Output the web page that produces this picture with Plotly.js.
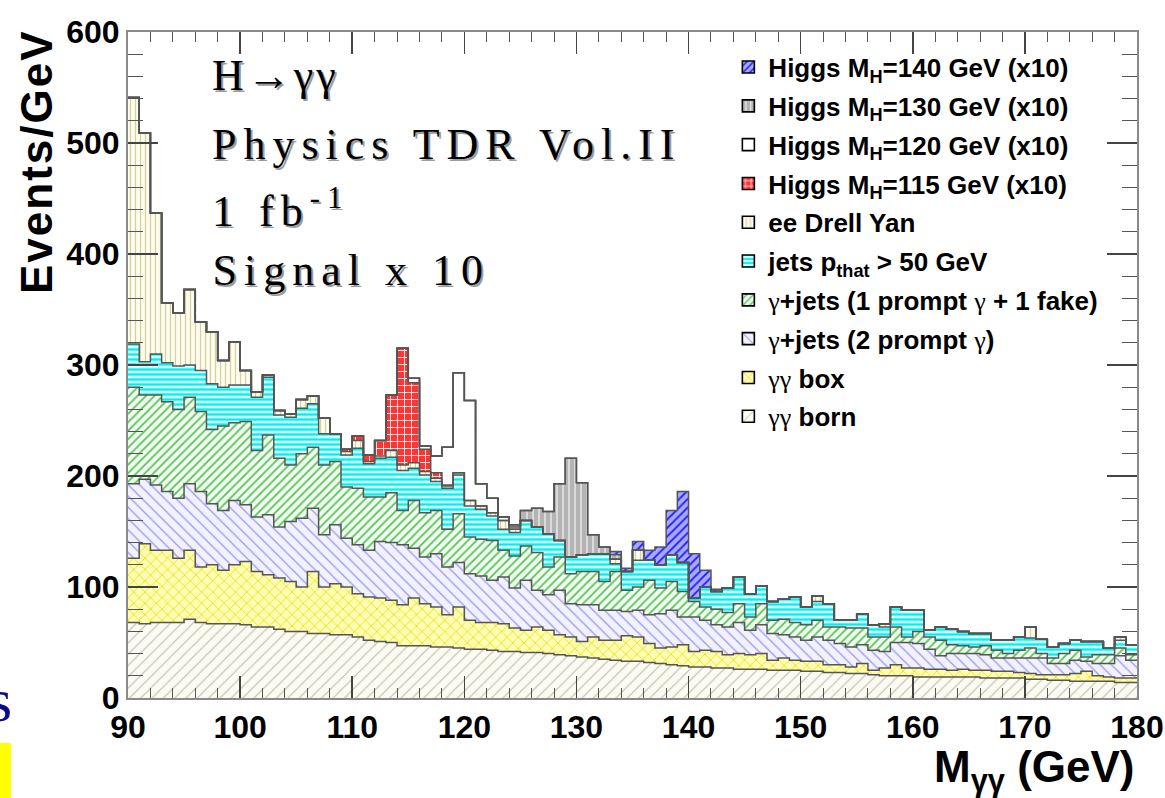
<!DOCTYPE html>
<html>
<head>
<meta charset="utf-8">
<script src="https://cdn.plot.ly/plotly-3.0.1.min.js"></script>
<style>
  html, body { margin: 0; padding: 0; background: #ffffff; }
  #chart { width: 1165px; height: 798px; }
  /* tracking for the axis title and the serif note block */
  .annotation[data-index="0"] text { letter-spacing: 2px; }
  .annotation[data-index="2"] text, .annotation[data-index="6"] text { letter-spacing: 3px; }
  .annotation[data-index="3"] text, .annotation[data-index="4"] text,
  .annotation[data-index="5"] text, .annotation[data-index="7"] text,
  .annotation[data-index="8"] text, .annotation[data-index="9"] text { letter-spacing: 7px; }
</style>
</head>
<body>
<div id="chart"></div>
<script>
// Di-photon invariant mass, 1 GeV bins from 90 to 180 GeV (Events/GeV)
const massLow = 90;
const massHigh = 180;

// backgrounds, stacked bottom to top
const born = [68,67,68,68,68,71,68,67,67,67,66,64,64,62,60,60,58,58,57,57,55,52,51,50,47,47,47,46,46,45,44,44,43,
  42,42,41,41,40,39,38,37,36,35,34,33,
  33,32,31,30,29,28,28,27,27,26,26,26,25,25,25,24,24,23,23,22,22,21,20,
  20,20,19,19,19,19,19,19,18,18,18,18,17,17,16,16,15,15,15,15,14,14];
const box = [58,72,65,65,58,62,50,53,48,53,57,50,47,46,45,40,56,42,46,43,39,39,39,38,37,43,38,36,29,37,26,24,25,
  25,21,20,23,21,18,17,14,19,17,18,23,
  22,17,14,16,19,14,15,15,12,14,13,14,9,11,9,9,9,7,7,6,9,4,7,
  10,7,8,7,7,6,7,6,7,6,6,5,5,4,5,5,7,9,5,4,4,4];
const prompt2 = [67,58,59,53,54,60,68,55,54,58,51,49,54,46,54,62,57,47,53,44,44,42,
  51,52,54,45,42,48,43,40,42,42,38,42,36,45,33,32,40,30,33,29,27,27,22,
  24,26,31,33,25,31,27,24,25,28,22,26,24,21,21,19,22,22,19,18,17,18,15,
  20,23,22,18,12,15,14,15,14,12,12,13,14,15,10,10,12,9,11,12,20,16];
const prompt1fake = [87,76,81,81,80,78,72,67,76,70,75,60,72,62,51,58,55,63,57,46,51,48,
  40,45,31,43,40,39,34,44,33,33,36,
  24,29,31,34,25,30,27,30,30,26,35,19,
  21,31,23,26,23,14,12,14,13,17,12,19,12,14,13,14,15,12,15,17,15,12,13,
  14,5,11,11,14,8,7,6,8,7,4,7,9,4,5,9,9,4,8,8,7,5];
const jets = [39,30,37,35,39,29,37,41,35,34,33,48,52,39,43,41,39,28,25,29,36,30,
  35,32,36,29,34,26,37,35,28,27,22,
  19,21,23,23,30,15,15,15,16,25,7,17,
  24,18,21,24,26,3,18,16,22,24,21,16,17,18,23,16,17,21,6,7,13,11,9,
  18,24,19,6,12,14,13,12,11,9,12,12,9,13,10,9,9,14,12,6,7,9];
const drellYan = [222,206,127,54,48,68,44,47,24,39,13,5,2,4,3,8,7,14,0,3,7,2,
  2,6,5,5,3,3,2,2,5,3,3,8,3,0,0,0,0,0,0,0,0,4,0,
  9,0,0,0,0,0,0,0,0,0,0,0,0,0,0,0,5,0,0,0,0,0,3,
  0,0,0,0,0,0,0,0,0,0,0,0,10,0,0,0,0,0,0,0,3,0];

// Higgs signals (x10): first filled bin (GeV) and contents from there on
const h115From = 109, h115 = [2,4,6,14,50,105,72,20,5,1];
const h120From = 115, h120 = [4,3,15,34,90,90,20,13,3,2];
const h130From = 124, h130 = [2,9,17,20,51,89,65,17,6,4];
const h140From = 133, h140 = [3,3,8,9,16,40,64,40,15,2];

const nBins = massHigh - massLow;
const binCenters = Array.from({length: nBins}, (_, i) => massLow + i + 0.5);
const binEdges = Array.from({length: nBins + 1}, (_, i) => massLow + i);

function fullHisto(from, vals) {
  const h = new Array(nBins).fill(0);
  vals.forEach((v, k) => { h[from - massLow + k] = v; });
  return h;
}

const gam = '<span style="font-family:Liberation Serif;font-weight:normal">γ</span>';

// stack order bottom -> top
const series = [
  {name: gam + gam + ' born', y: born, bg: '#fbfbf4', fg: '#bdbda6', shape: '/', size: 8, sol: 0.14},
  {name: gam + gam + ' box', y: box, bg: '#fffcb4', fg: '#e6e000', shape: 'x', size: 8, sol: 0.18},
  {name: gam + '+jets (2 prompt ' + gam + ')', y: prompt2, bg: '#f1f1ff', fg: '#9a9ae6', shape: '\\', size: 8, sol: 0.16},
  {name: gam + '+jets (1 prompt ' + gam + ' + 1 fake)', y: prompt1fake, bg: '#effcef', fg: '#58c058', shape: '/', size: 6, sol: 0.28},
  {name: 'jets p<sub>that</sub> > 50 GeV', y: jets, bg: '#d2ffff', fg: '#00f0f0', shape: '-', size: 5, sol: 0.45},
  {name: 'ee Drell Yan', y: drellYan, bg: '#fdfcee', fg: '#d6d09c', shape: '|', size: 5, sol: 0.25},
  {name: 'Higgs M<sub>H</sub>=115 GeV (x10)', y: fullHisto(h115From, h115), bg: '#ff3535', fg: '#ffffff', shape: '+', size: 7, sol: 0.22},
  {name: 'Higgs M<sub>H</sub>=120 GeV (x10)', y: fullHisto(h120From, h120), bg: '#ffffff', fg: '#ffffff', shape: '', size: 8, sol: 0.2},
  {name: 'Higgs M<sub>H</sub>=130 GeV (x10)', y: fullHisto(h130From, h130), bg: '#b4b4b4', fg: '#f4f4f4', shape: '|', size: 6, sol: 0.2},
  {name: 'Higgs M<sub>H</sub>=140 GeV (x10)', y: fullHisto(h140From, h140), bg: '#a8a8ff', fg: '#1a1aff', shape: '/', size: 6, sol: 0.3}
];

const font = 'Liberation Sans, Arial, Helvetica, sans-serif';
const serif = 'Liberation Serif, Times New Roman, serif';

const fills = [];
const outlines = [];
const legendItems = [];
const cumulative = new Array(nBins).fill(0);

series.forEach((s, idx) => {
  const pattern = {shape: s.shape, fgcolor: s.fg, bgcolor: s.bg, size: s.size, solidity: s.sol, fillmode: 'replace'};
  fills.push({
    type: 'bar', x: binCenters, y: s.y, width: 1,
    marker: {color: s.bg, line: {width: 0}, pattern: pattern},
    showlegend: false, hoverinfo: 'skip'
  });
  for (let i = 0; i < nBins; i++) cumulative[i] += s.y[i];
  const top = cumulative.slice();
  top.push(cumulative[nBins - 1]);
  outlines.push({
    type: 'scatter', mode: 'lines', x: binEdges, y: top,
    line: {shape: 'hv', color: '#555555', width: 1.5},
    showlegend: false, hoverinfo: 'skip'
  });
  // legend entry with a framed swatch (zero-height bar outside the axis range)
  legendItems.unshift({
    type: 'bar', x: [massHigh + 20], y: [0], width: 1, name: s.name,
    legendgroup: 'g' + idx,
    marker: {color: s.bg, line: {color: '#000000', width: 1.6}, pattern: pattern},
    hoverinfo: 'skip'
  });
});

const px2py = p => (698 - p) / 666;   // plot-area pixel row -> paper y
const px2px = p => (p - 128) / 1009;  // plot-area pixel column -> paper x

// serif note block; "track" is the extra letter spacing in px, "chars" the visible glyph count
const notes = [
  {text: 'H→γγ', y: px2py(75), track: 3, chars: 4},
  {text: 'Physics TDR Vol.II', y: px2py(144), track: 7, chars: 18},
  {text: '1 fb<sup>-1</sup>', y: px2py(209), track: 7, chars: 6},
  {text: 'Signal x 10', y: px2py(270), track: 7, chars: 11}
];

const annotations = [
  {text: 'Events/GeV', xref: 'paper', yref: 'paper', x: px2px(36), y: px2py(162), textangle: -90,
   showarrow: false, xanchor: 'center', yanchor: 'middle',
   font: {family: font, size: 44, color: '#000000', weight: 'bold'}},
  {text: 'M<sub>γγ</sub> (GeV)', xref: 'paper', yref: 'paper', x: 1, y: px2py(770),
   showarrow: false, xanchor: 'right', yanchor: 'middle',
   font: {family: font, size: 44, color: '#000000', weight: 'bold'}}
];
// the tracked text is laid out around the box centre, so shift it by half the added width
notes.forEach(n => annotations.push({text: n.text, xref: 'paper', yref: 'paper', x: px2px(210), y: n.y,
  xshift: n.track * n.chars / 2 + 2, yshift: -2, showarrow: false, xanchor: 'left', yanchor: 'middle',
  font: {family: serif, size: 44, color: '#9c9c9c'}}));
notes.forEach(n => annotations.push({text: n.text, xref: 'paper', yref: 'paper', x: px2px(210), y: n.y,
  xshift: n.track * n.chars / 2, showarrow: false, xanchor: 'left', yanchor: 'middle',
  font: {family: serif, size: 44, color: '#000000'}}));
// slide remnants at the left border
annotations.push({text: 's', xref: 'paper', yref: 'paper', x: px2px(14), y: px2py(700),
  showarrow: false, xanchor: 'right', yanchor: 'middle', font: {family: serif, size: 62, color: '#0a0a8c'}});

const tickFont = {family: font, size: 32, color: '#000000', weight: 'bold'};

const layout = {
  width: 1165, height: 798,
  margin: {l: 128, r: 28, t: 32, b: 100},
  paper_bgcolor: '#ffffff', plot_bgcolor: '#ffffff',
  barmode: 'stack', bargap: 0,
  hovermode: false,
  showlegend: true,
  legend: {
    x: 0.595, y: 0.9825, xanchor: 'left', yanchor: 'top',
    bgcolor: 'rgba(0,0,0,0)', borderwidth: 0,
    traceorder: 'grouped', tracegroupgap: 2,
    font: {family: font, size: 26, color: '#000000', weight: 'bold'}
  },
  xaxis: {
    range: [massLow, massHigh], tick0: 90, dtick: 10,
    ticks: 'inside', ticklen: 22, tickwidth: 1.5, tickcolor: '#444444',
    minor: {dtick: 2, ticks: 'inside', ticklen: 10, tickwidth: 1, tickcolor: '#555555'},
    showline: true, linecolor: '#8a8a8a', linewidth: 2, mirror: 'allticks',
    showgrid: false, zeroline: false, tickfont: tickFont
  },
  yaxis: {
    range: [0, 600], tick0: 0, dtick: 100,
    ticks: 'inside', ticklen: 30, tickwidth: 1.5, tickcolor: '#444444',
    minor: {dtick: 20, ticks: 'inside', ticklen: 15, tickwidth: 1, tickcolor: '#555555'},
    showline: true, linecolor: '#8a8a8a', linewidth: 2, mirror: 'allticks',
    showgrid: false, zeroline: false, tickfont: tickFont
  },
  annotations: annotations,
  shapes: [
    {type: 'rect', xref: 'paper', yref: 'paper', x0: px2px(0), x1: px2px(11), y0: px2py(800), y1: px2py(743),
     fillcolor: '#ffff00', line: {width: 0}, layer: 'above'}
  ]
};

Plotly.newPlot('chart', fills.concat(outlines, legendItems), layout, {displayModeBar: false, staticPlot: true});
</script>
</body>
</html>
